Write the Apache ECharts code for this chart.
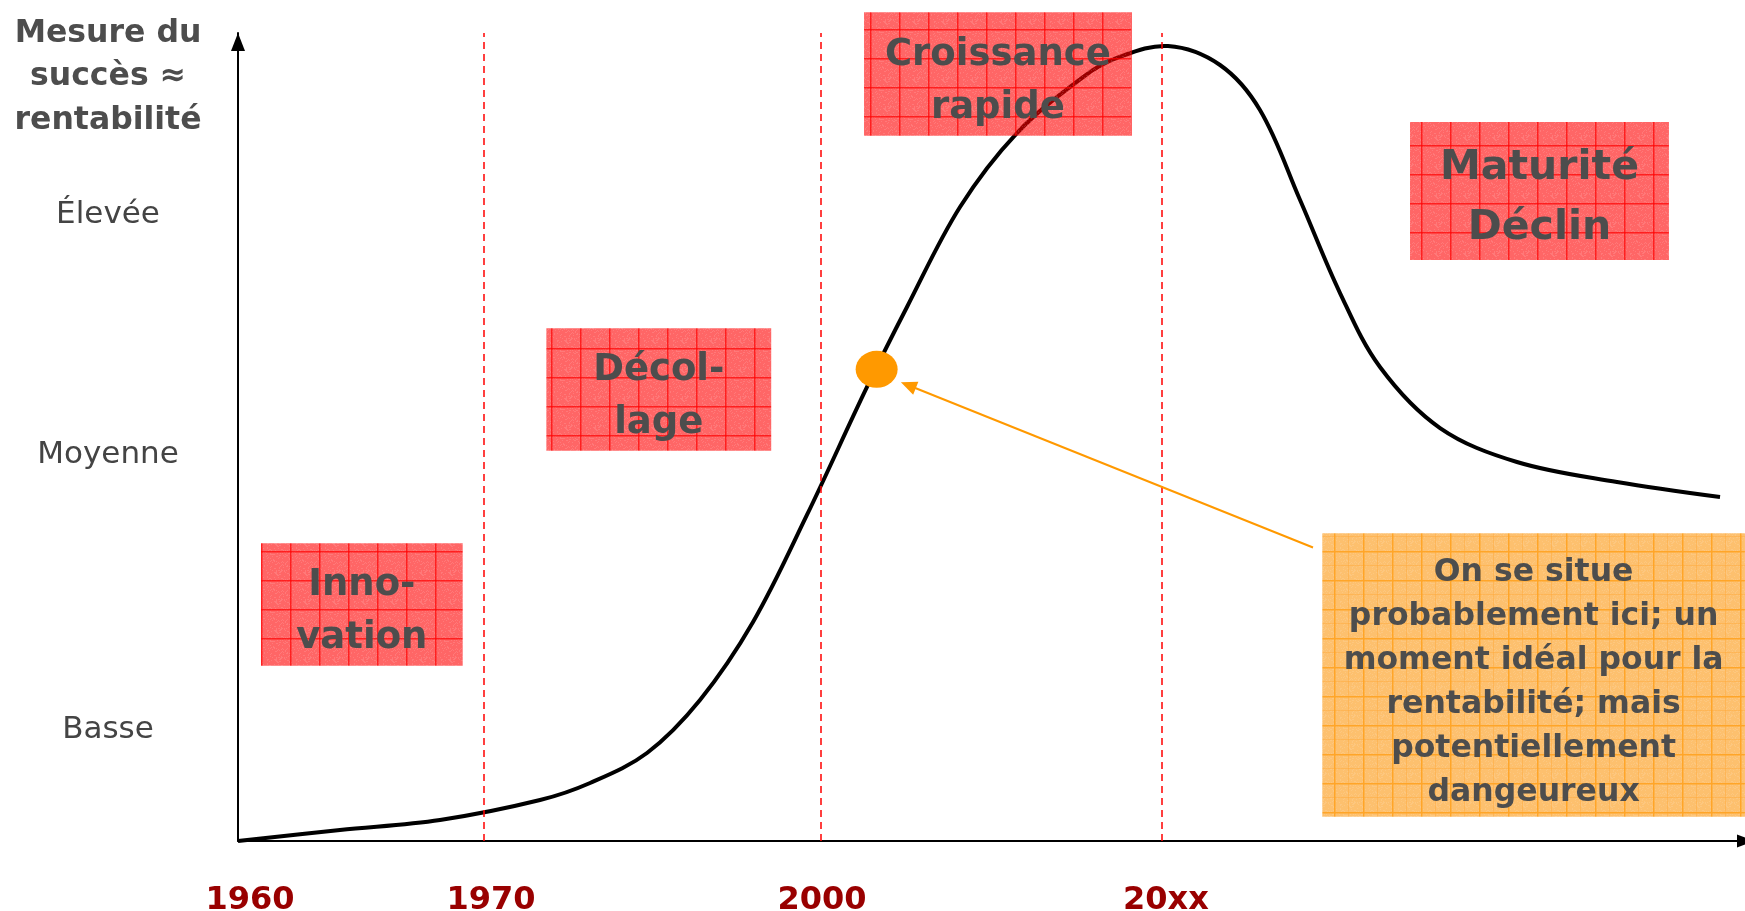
<!DOCTYPE html>
<html>
<head>
<meta charset="utf-8">
<script src="https://cdn.jsdelivr.net/npm/echarts@6/dist/echarts.min.js"></script>
<style>
    html, body { margin: 0; padding: 0; background: #fff; }
    #chart { width: 1745px; height: 911px; }
</style>
</head>
<body>
<div id="chart"></div>
<script>
    // courbe de vie (unités arbitraires, 0-100 sur chaque axe)
    var curveX = [0, 6.79, 13.45, 20.11, 23.44, 27.23, 30.76, 34.29, 37.88, 41.88, 44.54, 48.07, 51.86,
        56.26, 58.52, 61.92, 65.38, 68.04, 70.71, 73.37, 76.03, 80.03, 85.15, 91.81, 98.67];
    var curveY = [0, 1.36, 2.60, 5.07, 7.18, 10.89, 17.45, 27.10, 40.35, 56.19, 66.09, 78.47, 87.62,
        94.55, 96.91, 98.39, 96.04, 90.47, 79.33, 67.82, 58.66, 51.11, 46.91, 44.43, 42.57];

    // limites des phases (pointillés rouges)
    var phaseLines = [16.33, 38.81, 61.51];

    var xTickValues = [0.8, 16.84, 38.88, 61.78];
    var xTickLabels = ['1960', '1970', '2000', '20xx'];
    var yTickValues = [13.73, 47.77, 77.47];
    var yTickLabels = ['Basse', 'Moyenne', 'Élevée'];

    // encadrés
    var boxNames = ['Inno-\nvation', 'Décol-\nlage', 'Croissance\nrapide', 'Maturité\nDéclin',
        'On se situe\nprobablement ici; un\nmoment idéal pour la\nrentabilité; mais\npotentiellement\ndangeureux'];
    var boxX0 = [1.53, 20.53, 41.68, 78.03, 72.19];
    var boxX1 = [14.96, 35.50, 59.50, 95.27, 100.33];
    var boxY0 = [21.70, 48.30, 87.29, 71.91, 3.01];
    var boxY1 = [36.84, 63.45, 102.56, 88.99, 38.08];

    // "on se situe ici"
    var herePoint = [42.52, 58.38];
    var arrowFrom = [71.57, 36.32];
    var arrowTo = [44.63, 56.40];

    function gridPattern(bg, line, minor) {
        var c = document.createElement('canvas');
        c.width = 29; c.height = 29;
        var ctx = c.getContext('2d');
        ctx.fillStyle = bg;
        ctx.fillRect(0, 0, 29, 29);
        // petit grain
        for (var i = 0; i < 29; i++) {
            for (var j = 0; j < 29; j++) {
                if (((i * 7 + j * 13) ^ (i * j)) % 5 === 0) {
                    ctx.fillStyle = 'rgba(255,255,255,0.12)';
                    ctx.fillRect(i, j, 1, 1);
                }
            }
        }
        if (minor) {
            ctx.fillStyle = minor;
            ctx.fillRect(14, 0, 1, 29);
            ctx.fillRect(0, 14, 29, 1);
        }
        ctx.fillStyle = line;
        ctx.fillRect(0, 0, 1.5, 29);
        ctx.fillRect(0, 0, 29, 1.5);
        return { image: c, repeat: 'repeat' };
    }

    var redFill = gridPattern('rgba(255,0,0,0.6)', 'rgba(255,0,0,0.7)');
    var orangeFill = gridPattern('rgb(253,192,110)', 'rgb(255,165,40)', 'rgba(255,170,60,0.5)');
    var boxStyle = [
        { fill: redFill, size: 37, lh: 53 },
        { fill: redFill, size: 37, lh: 53 },
        { fill: redFill, size: 37, lh: 53 },
        { fill: redFill, size: 41, lh: 60 },
        { fill: orangeFill, size: 31.5, lh: 44 }
    ];

    function pickLabel(values, labels, v) {
        var best = 0;
        for (var i = 1; i < values.length; i++) {
            if (Math.abs(values[i] - v) < Math.abs(values[best] - v)) best = i;
        }
        return labels[best];
    }

    var chart = echarts.init(document.getElementById('chart'));
    chart.setOption({
        animation: false,
        backgroundColor: '#fff',
        title: {
            text: 'Mesure du\nsuccès ≈\nrentabilité',
            left: 103,
            top: 7,
            textAlign: 'center',
            textStyle: {
                fontFamily: 'DejaVu Sans',
                fontWeight: 'bold',
                fontSize: 31.5,
                lineHeight: 43.5,
                color: '#4d4d4d'
            }
        },
        grid: { left: 238, right: 5, top: 33, bottom: 70, outerBoundsMode: 'none' },
        xAxis: {
            type: 'value',
            min: 0,
            max: 100,
            axisLine: {
                lineStyle: { color: '#000', width: 2 },
                symbol: ['none', 'triangle'],
                symbolSize: [13, 18],
                symbolOffset: [0, 6]
            },
            axisTick: { show: false },
            splitLine: { show: false },
            axisLabel: {
                customValues: xTickValues,
                formatter: function (v) { return pickLabel(xTickValues, xTickLabels, v); },
                margin: 44,
                fontFamily: 'DejaVu Sans',
                fontWeight: 'bold',
                fontSize: 32,
                lineHeight: 32,
                color: '#990000'
            }
        },
        yAxis: {
            type: 'value',
            min: 0,
            max: 100,
            axisLine: {
                show: true,
                lineStyle: { color: '#000', width: 2 },
                symbol: ['none', 'triangle'],
                symbolSize: [14, 18],
                symbolOffset: [0, -9]
            },
            axisTick: { show: false },
            splitLine: { show: false },
            axisLabel: {
                customValues: yTickValues,
                formatter: function (v) { return pickLabel(yTickValues, yTickLabels, v); },
                margin: 130,
                align: 'center',
                fontFamily: 'DejaVu Sans',
                fontSize: 31,
                color: '#444'
            }
        },
        series: [
            {
                // la courbe : polyline lissée
                name: 'courbe',
                type: 'custom',
                z: 2,
                clip: false,
                silent: true,
                data: curveX.map(function (x, i) { return [x, curveY[i]]; }),
                renderItem: function (params, api) {
                    if (params.dataIndex !== 0) return null;
                    var pts = curveX.map(function (x, i) { return api.coord([x, curveY[i]]); });
                    return {
                        type: 'polyline',
                        shape: { points: pts, smooth: 0.35 },
                        style: { stroke: '#000', lineWidth: 4, fill: null, lineJoin: 'round' }
                    };
                },
                markLine: {
                    silent: true,
                    symbol: ['none', 'none'],
                    label: { show: false },
                    lineStyle: { color: '#ff0000', width: 1.5, type: [7, 5] },
                    data: phaseLines.map(function (x) { return { xAxis: x }; })
                }
            },
            {
                name: 'encadrés',
                type: 'custom',
                z: 3,
                clip: false,
                silent: true,
                data: boxNames.map(function (n, i) { return [boxX0[i], boxX1[i], boxY0[i], boxY1[i]]; }),
                renderItem: function (params, api) {
                    var i = params.dataIndex;
                    var p0 = api.coord([api.value(0), api.value(3)]);
                    var p1 = api.coord([api.value(1), api.value(2)]);
                    var st = boxStyle[i];
                    return {
                        type: 'group',
                        children: [
                            {
                                type: 'rect',
                                shape: { x: p0[0], y: p0[1], width: p1[0] - p0[0], height: p1[1] - p0[1] },
                                style: { fill: st.fill }
                            },
                            {
                                type: 'text',
                                style: {
                                    text: boxNames[i],
                                    x: (p0[0] + p1[0]) / 2,
                                    y: (p0[1] + p1[1]) / 2 + 7.5,
                                    align: 'center',
                                    verticalAlign: 'middle',
                                    fill: '#4d4d4d',
                                    fontFamily: 'DejaVu Sans',
                                    fontWeight: 'bold',
                                    fontSize: st.size,
                                    lineHeight: st.lh
                                }
                            }
                        ]
                    };
                }
            },
            {
                name: 'ici',
                type: 'scatter',
                z: 4,
                silent: true,
                data: [herePoint],
                symbol: 'circle',
                symbolSize: [42, 37],
                itemStyle: { color: '#ff9900', opacity: 1 },
                markLine: {
                    silent: true,
                    symbol: ['none', 'triangle'],
                    symbolSize: [14, 16],
                    label: { show: false },
                    lineStyle: { color: '#ff9900', width: 2, type: 'solid' },
                    data: [[{ coord: arrowFrom }, { coord: arrowTo }]]
                }
            }
        ]
    });
</script>
</body>
</html>
